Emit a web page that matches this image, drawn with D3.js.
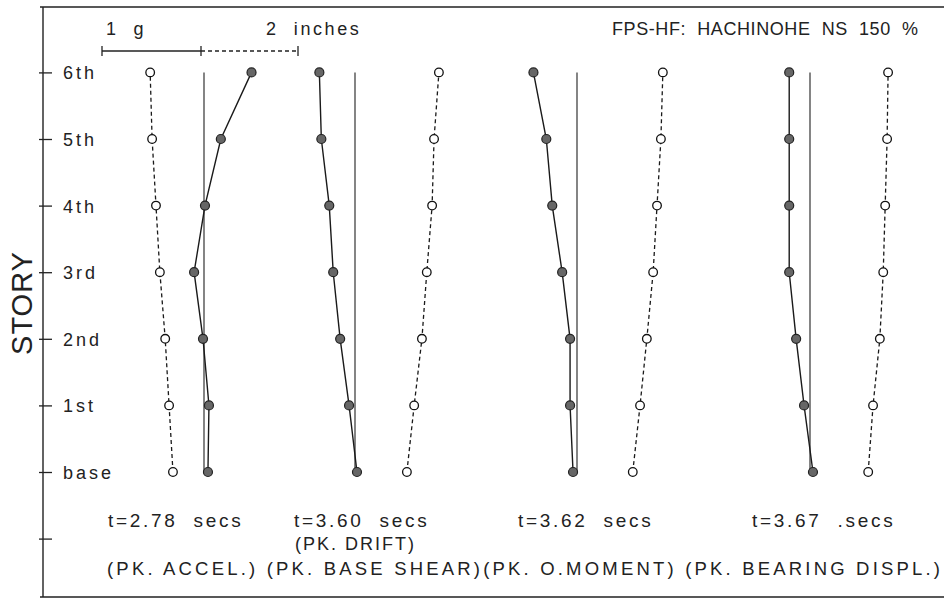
<!DOCTYPE html>
<html lang="en">
<head>
<meta charset="UTF-8">
<title>FPS-HF: Hachinohe NS 150 % story profiles</title>
<style>
    body { margin: 0; background: #fff; }
    svg text {
        font-family: "Liberation Sans", Arial, sans-serif;
        fill: #222;
        letter-spacing: 2px;
    }
    .zero { stroke: #333; stroke-width: 1.2; }
    .accel { fill: none; stroke: #1a1a1a; stroke-width: 1.4; }
    .disp { fill: none; stroke: #1a1a1a; stroke-width: 1.3; stroke-dasharray: 4,3; }
    .dot-accel { fill: #666; stroke: #222; stroke-width: 1.2; }
    .dot-disp { fill: #fff; stroke: #111; stroke-width: 1.3; }
</style>
</head>
<body>
<div id="chart"></div>
<script src="https://cdn.jsdelivr.net/npm/d3@7"></script>
<script>

    // story levels, base first (-1 is the unlabeled tick below the base)
    var stories = ["base", "1st", "2nd", "3rd", "4th", "5th", "6th"]

    // snapshot labels
    var times = ["t=2.78  secs", "t=3.60  secs", "t=3.62  secs", "t=3.67  .secs"]
    var peaks = ["(PK. ACCEL.)", "(PK. BASE SHEAR)", "(PK. O.MOMENT)", "(PK. BEARING DISPL.)"]

    // floor accelerations in g, base -> 6th (solid, filled dots)
    var accel = [
        [0.04, 0.05, -0.01, -0.10, 0.01, 0.17, 0.48],
        [0.02, -0.06, -0.15, -0.22, -0.26, -0.34, -0.36],
        [-0.04, -0.07, -0.07, -0.15, -0.25, -0.31, -0.44],
        [0.03, -0.06, -0.14, -0.21, -0.21, -0.21, -0.21]
    ]

    // floor displacements in inches, base -> 6th (dashed, open dots)
    var disp = [
        [-0.64, -0.72, -0.80, -0.91, -0.99, -1.07, -1.11],
        [1.07, 1.22, 1.38, 1.48, 1.59, 1.63, 1.73],
        [1.15, 1.30, 1.44, 1.57, 1.65, 1.73, 1.77],
        [1.20, 1.30, 1.44, 1.51, 1.55, 1.59, 1.61]
    ]

    var W = 944, H = 603
    var axisX = 43
    var zeros = [204, 355, 577, 810]      // zero line of each snapshot
    var timeX = [108, 294, 518, 752]

    var svg = d3.select("#chart").append("svg")
        .attr("width", W)
        .attr("height", H)

    var y = d3.scaleLinear().domain([-1, 6]).range([538.6, 72.4])
    // 1 g and 2 inches share the scale bar at the top
    var xg = d3.scaleLinear().domain([0, 1]).range([0, 99])
    var xin = d3.scaleLinear().domain([0, 2]).range([0, 97])

    // frame
    svg.append("path")
        .attr("d", "M" + W + ",7H40M" + axisX + ",7V597M40,597H" + W)
        .attr("fill", "none")
        .attr("stroke", "#222")
        .attr("stroke-width", 1.4)

    // story axis
    var axis = d3.axisRight(y)
        .tickValues(d3.range(-1, 7))
        .tickSize(9)
        .tickPadding(11)
        .tickFormat(function (d) { return d < 0 ? "" : stories[d]; })
    var ag = svg.append("g").attr("transform", "translate(" + axisX + ",0)").call(axis)
    ag.select(".domain").remove()
    ag.selectAll("line").attr("stroke", "#222").attr("stroke-width", 1.3).attr("x1", -4)
    ag.selectAll("text")
        .attr("font-size", 18)
        .attr("font-family", null)
        .attr("fill", null)
        .attr("dy", "0.36em")
        .style("letter-spacing", "3px")

    svg.append("text")
        .attr("transform", "translate(32,303) rotate(-90)")
        .attr("text-anchor", "middle")
        .attr("font-size", 29)
        .style("letter-spacing", "1px")
        .text("STORY")

    // scale bar
    var sb = svg.append("g").attr("transform", "translate(102,51)")
    sb.append("line").attr("x1", 0).attr("x2", xg(1))
        .attr("stroke", "#222").attr("stroke-width", 1.4)
    sb.append("line").attr("x1", xg(1)).attr("x2", xg(1) + xin(2))
        .attr("stroke", "#222").attr("stroke-width", 1.3).attr("stroke-dasharray", "4,3")
    sb.selectAll(".end").data([0, xg(1), xg(1) + xin(2)]).enter().append("line")
        .attr("x1", function (d) { return d; }).attr("x2", function (d) { return d; })
        .attr("y1", -5).attr("y2", 5)
        .attr("stroke", "#222").attr("stroke-width", 1.3)
    sb.append("text").attr("x", 4).attr("y", -16).attr("font-size", 18)
        .attr("xml:space", "preserve").style("letter-spacing", "2.5px").text("1  g")
    sb.append("text").attr("x", 164).attr("y", -16).attr("font-size", 18)
        .attr("xml:space", "preserve").style("letter-spacing", "2.6px").text("2  inches")

    svg.append("text")
        .attr("x", 612).attr("y", 35)
        .attr("font-size", 18)
        .attr("xml:space", "preserve")
        .attr("textLength", 306)
        .attr("lengthAdjust", "spacing")
        .style("letter-spacing", "0px")
        .text("FPS-HF:  HACHINOHE  NS  150  %")

    // profiles
    zeros.forEach(function (z, i) {
        var g = svg.append("g")

        g.append("line").attr("class", "zero")
            .attr("x1", z).attr("x2", z)
            .attr("y1", y(6)).attr("y2", y(0))

        var la = d3.line()
            .x(function (d) { return z + xg(d); })
            .y(function (d, k) { return y(k); })
        var ld = d3.line()
            .x(function (d) { return z + xin(d); })
            .y(function (d, k) { return y(k); })

        g.append("path").attr("class", "disp").attr("d", ld(disp[i]))
        g.append("path").attr("class", "accel").attr("d", la(accel[i]))

        g.selectAll(".dot-disp").data(disp[i]).enter().append("circle")
            .attr("class", "dot-disp")
            .attr("cx", function (d) { return z + xin(d); })
            .attr("cy", function (d, k) { return y(k); })
            .attr("r", 4.3)
        g.selectAll(".dot-accel").data(accel[i]).enter().append("circle")
            .attr("class", "dot-accel")
            .attr("cx", function (d) { return z + xg(d); })
            .attr("cy", function (d, k) { return y(k); })
            .attr("r", 4.5)

        svg.append("text")
            .attr("x", timeX[i]).attr("y", 527)
            .attr("font-size", 19)
            .attr("xml:space", "preserve")
            .style("letter-spacing", "2.7px")
            .text(times[i])
    })

    svg.append("text")
        .attr("x", timeX[1] + 1).attr("y", 550)
        .attr("font-size", 18)
        .style("letter-spacing", "2px")
        .text("(PK. DRIFT)")

    // peak labels run as one plotted line across the bottom
    svg.append("text")
        .attr("x", 107).attr("y", 575)
        .attr("font-size", 18.5)
        .attr("textLength", 833)
        .attr("lengthAdjust", "spacing")
        .style("letter-spacing", "0px")
        .text(peaks[0] + " " + peaks[1] + peaks[2] + " " + peaks[3])

</script>
</body>
</html>
